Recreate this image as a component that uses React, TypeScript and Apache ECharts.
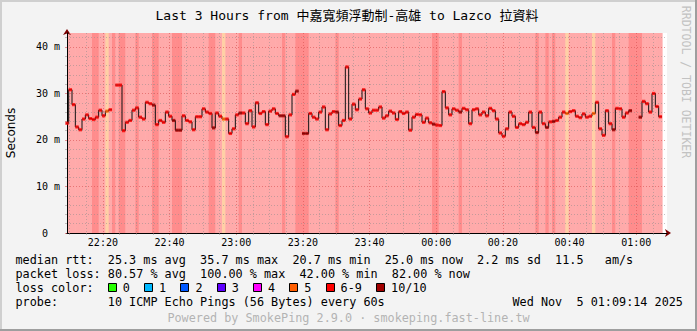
import React, { useEffect, useRef } from 'react';
import * as echarts from 'echarts';

// ---------------- data ----------------
// median RTT (ms), one value per minute starting at the left edge of the plot
const rttMs: (number | null)[] = [
  23.6, 30.8, 27.6, 22.8, 22.2, 24.5, 25.4, 24.6, 24.4, 24.9,
  26.4, 25.2, 26.2, 26.5, null, 31.8, 31.8, 22.0, 23.8, 24.2,
  26.4, 26.9, 24.9, 24.5, 28.1, 27.8, 27.5, 23.3, 24.2, 23.8,
  26.0, 25.1, 24.2, 22.1, 22.1, 25.2, 24.2, 23.9, 22.2, 25.0,
  25.0, 26.7, 26.0, 25.7, 22.6, 25.8, 25.1, 24.5, 24.5, 21.4,
  22.4, 25.4, 25.8, 25.8, 23.5, 26.3, 22.8, 28.0, 25.7, 26.1,
  23.3, 26.2, 26.7, 25.7, 25.2, 25.2, 20.7, 25.4, 29.8, 30.5,
  null, 21.4, 21.4, 25.7, 24.9, 24.5, 26.0, 27.1, 22.2, 25.6,
  26.1, 26.0, 23.1, 24.2, 35.7, 24.5, 27.7, 26.5, 28.8, 30.8,
  26.7, 25.8, 26.4, 26.4, 27.1, 24.7, 25.2, 26.2, 25.8, 24.4,
  26.1, 25.7, 26.0, 22.1, 24.9, 25.5, 25.4, 23.8, 24.7, 23.7,
  23.4, 23.2, 23.1, 30.4, 26.9, 25.4, 26.7, 26.4, 26.0, 26.8,
  26.5, 23.5, 26.5, 26.7, 25.4, 26.0, 25.2, 26.8, 26.3, 24.5,
  21.5, 20.8, 22.4, 26.0, 25.1, 22.7, 23.5, 23.3, 23.8, 26.0,
  22.7, 21.6, 26.0, 23.5, 22.7, 23.9, 24.0, 24.2, 24.9, 26.0,
  25.7, 26.1, 26.3, 25.1, 24.8, 25.6, 24.9, 25.1, 25.7, 28.1,
  22.4, 21.0, 26.3, 23.5, 22.2, 26.8, 26.7, 24.9, 25.8, 26.3,
  null, null, 24.9, 28.3, 27.8, 26.0, 30.0, 27.2, 25.0,
];

// minutes (index into rttMs) whose loss shading is 10/10 or 5/10 (others are 6-9)
const bgFullLoss = [8, 9, 14, 16, 17, 21, 26, 27, 32, 33, 34, 43, 44, 52, 65, 69, 70, 71, 72, 81, 110, 111, 118, 141, 144, 146, 164, 169, 170, 171, 172];
const bgHalfLoss = [12, 47, 150, 158];
// minutes whose median marker is coloured 10/10 or 5
const medianFullLoss = [26, 32, 33, 34, 44, 52, 64, 65, 69, 71, 72, 81, 110, 118, 141, 144, 146, 164, 169, 172];
const medianHalfLoss = [12, 47, 150, 158];

const startTime = '22:09:14';
const spanMinutes = 180;
const xTickLabels = ['22:20', '22:40', '23:00', '23:20', '23:40', '00:00', '00:20', '00:40', '01:00'];
const xMinorStep = 5;
const yMax = 43;
const yMinorStep = 2;
const yMajorTicks = [0, 10, 20, 30, 40];

const lossLabels = ['0', '1', '2', '3', '4', '5', '6-9', '10/10'];
const lossColors = ['#26ff00', '#00b8ff', '#0059ff', '#5e00ff', '#ff00ff', '#ff5e00', '#ff0000', '#a10000'];

const title = 'Last 3 Hours from 中嘉寬頻浮動制-高雄 to Lazco 拉資料';
const statLines = [
  'median rtt:  25.3 ms avg  35.7 ms max  20.7 ms min  25.0 ms now  2.2 ms sd  11.5   am/s',
  'packet loss: 80.57 % avg  100.00 % max  42.00 % min  82.00 % now',
];
const lossLegendTitle = 'loss color:';
const probeLine = 'probe:       10 ICMP Echo Pings (56 Bytes) every 60s';
const dateLine = 'Wed Nov  5 01:09:14 2025';
const footer = 'Powered by SmokePing 2.9.0 · smokeping.fast-line.tw';
const watermark = 'RRDTOOL / TOBI OETIKER';
const yName = 'Seconds';

// ---------------- helpers ----------------
const W = 697;
const H = 331;
const MONO = "'DejaVu Sans Mono', 'Noto Sans CJK TC', monospace";
const CW = 7.1;
const X0 = 15.5;
const FS = 11.8;

function clockMinutes(s: string) {
  const p = s.split(':').map(Number);
  let v = p[0] * 60 + p[1] + (p[2] || 0) / 60;
  if (p[0] < 12) v += 1440;
  return v;
}
const t0 = clockMinutes(startTime);
const xMajor = xTickLabels.map((l) => clockMinutes(l) - t0);
const xMinor: number[] = [];
for (let t = Math.ceil(t0 / xMinorStep) * xMinorStep; t - t0 <= spanMinutes; t += xMinorStep) {
  const v = t - t0;
  if (!xMajor.some((m) => Math.abs(m - v) < 0.01)) xMinor.push(v);
}
const yMinor: number[] = [];
for (let v = 0; v < yMax; v += yMinorStep) if (!yMajorTicks.includes(v)) yMinor.push(v);

function bgLoss(j: number) {
  return bgFullLoss.includes(j) ? 10 : bgHalfLoss.includes(j) ? 5 : 8;
}
function medLoss(j: number) {
  return medianFullLoss.includes(j) ? 10 : medianHalfLoss.includes(j) ? 5 : 8;
}
const bgColor: Record<number, string> = { 8: '#ffaaaa', 10: '#ff8c8c', 5: '#ffd0a6' };
const markColor: Record<number, string> = { 8: lossColors[6], 10: lossColors[7], 5: lossColors[5] };

function monoText(s: string, y: number, fill = '#000') {
  const out: any[] = [];
  const re = /\S+/g;
  let m: RegExpExecArray | null;
  while ((m = re.exec(s))) {
    out.push({
      type: 'text',
      x: X0 + m.index * CW,
      y,
      style: { text: m[0], fill, fontFamily: MONO, fontSize: FS, align: 'left', verticalAlign: 'middle', textAlign: 'left', textVerticalAlign: 'middle' },
    });
  }
  return out;
}

function buildOption() {
  const bgData = rttMs.map((_, j) => [j, bgLoss(j)]);
  const lineData: any[] = [];
  rttMs.forEach((v, j) => {
    if (v == null) lineData.push([j, null]);
    else lineData.push([j - 0.5, v], [j + 0.5, v]);
  });
  const markData: any[] = [];
  rttMs.forEach((v, j) => {
    if (v != null) markData.push([j, v, medLoss(j)]);
  });

  const minorGrid = 'rgba(150,140,140,0.55)';
  const majorGrid = 'rgba(215,80,80,0.6)';

  const graphic: any[] = [];
  // frame
  graphic.push({ type: 'rect', shape: { x: 0, y: 0, width: W, height: 2 }, style: { fill: '#cfcfcf' }, silent: true });
  graphic.push({ type: 'rect', shape: { x: 0, y: 0, width: 2, height: H }, style: { fill: '#cfcfcf' }, silent: true });
  graphic.push({ type: 'rect', shape: { x: 0, y: H - 2, width: W, height: 2 }, style: { fill: '#9e9e9e' }, silent: true });
  graphic.push({ type: 'rect', shape: { x: W - 2, y: 0, width: 2, height: H }, style: { fill: '#9e9e9e' }, silent: true });
  // title
  graphic.push({
    type: 'text', x: 347, y: 15,
    style: { text: title, fill: '#000', fontFamily: MONO, fontSize: 13, align: 'center', verticalAlign: 'middle', textAlign: 'center', textVerticalAlign: 'middle' },
  });
  // y name
  graphic.push({
    type: 'text', x: 11, y: 133, rotation: Math.PI / 2,
    style: { text: yName, fill: '#000', fontFamily: "'DejaVu Sans', sans-serif", fontSize: 12, align: 'center', verticalAlign: 'middle', textAlign: 'center', textVerticalAlign: 'middle' },
  });
  // watermark
  graphic.push({
    type: 'text', x: 686, y: 82, rotation: -Math.PI / 2,
    style: { text: watermark, fill: '#c2c2c2', fontFamily: MONO, fontSize: 11.5, align: 'center', verticalAlign: 'middle', textAlign: 'center', textVerticalAlign: 'middle' },
  });
  // stats
  graphic.push(...monoText(statLines[0], 259.5));
  graphic.push(...monoText(statLines[1], 273.5));
  graphic.push(...monoText(lossLegendTitle, 287.5));
  let bx = X0 + 13 * CW;
  lossLabels.forEach((lab, k) => {
    graphic.push({ type: 'rect', shape: { x: Math.round(bx) + 0.5, y: 283.5, width: 8, height: 8 }, style: { fill: lossColors[k], stroke: '#000', lineWidth: 1 } });
    const lx = bx + 15;
    graphic.push({
      type: 'text', x: lx, y: 287.5,
      style: { text: lab, fill: '#000', fontFamily: MONO, fontSize: FS, align: 'left', verticalAlign: 'middle', textAlign: 'left', textVerticalAlign: 'middle' },
    });
    bx = lx + (lab.length + 2) * CW;
  });
  graphic.push(...monoText(probeLine, 301.5));
  graphic.push({
    type: 'text', x: X0 + 70 * CW, y: 301.5,
    style: { text: dateLine.replace(/ {2}/g, ' \u00a0'), fill: '#000', fontFamily: MONO, fontSize: FS, align: 'left', verticalAlign: 'middle', textAlign: 'left', textVerticalAlign: 'middle' },
  });
  graphic.push({
    type: 'text', x: 348.5, y: 318,
    style: { text: footer, fill: '#b3b3b3', fontFamily: MONO, fontSize: FS, align: 'center', verticalAlign: 'middle', textAlign: 'center', textVerticalAlign: 'middle' },
  });

  const axisFont = { fontFamily: MONO, fontSize: 10, color: '#000' };

  return {
    animation: false,
    backgroundColor: '#f3f3f3',
    grid: { left: 67, top: 33, width: 600, height: 200, show: true, backgroundColor: '#ffffff', borderWidth: 0, containLabel: false, outerBoundsMode: 'none' },
    xAxis: [
      {
        type: 'value', min: 0, max: spanMinutes, position: 'bottom', z: 3,
        axisLine: { show: true, onZero: false, lineStyle: { color: '#000', width: 1 } },
        axisTick: { show: true, customValues: xMinor, length: 2, lineStyle: { color: minorGrid } },
        axisLabel: { show: false },
        splitLine: { show: true, customValues: xMinor, lineStyle: { color: minorGrid, width: 1, type: [1, 2] } },
      },
      {
        type: 'value', min: 0, max: spanMinutes, position: 'bottom', z: 2,
        axisLine: { show: true, onZero: false, lineStyle: { color: '#7a0000', width: 1 }, symbol: ['none', 'arrow'], symbolSize: [6, 6], symbolOffset: [0, 4] },
        axisTick: { show: true, customValues: xMajor, length: 2, lineStyle: { color: majorGrid } },
        axisLabel: {
          show: true, customValues: xMajor, margin: 4, ...axisFont,
          formatter: (v: number) => {
            const i = xMajor.findIndex((m) => Math.abs(m - v) < 0.01);
            return i >= 0 ? xTickLabels[i] : '';
          },
        },
        splitLine: { show: true, customValues: xMajor, lineStyle: { color: majorGrid, width: 1, type: [1, 2] } },
      },
    ],
    yAxis: [
      {
        type: 'value', min: 0, max: yMax, position: 'left', z: 3,
        axisLine: { show: true, onZero: false, lineStyle: { color: '#000', width: 1 } },
        axisTick: { show: true, customValues: yMinor, length: 2, lineStyle: { color: minorGrid } },
        axisLabel: { show: false },
        splitLine: { show: true, customValues: yMinor, lineStyle: { color: minorGrid, width: 1, type: [1, 2] } },
      },
      {
        type: 'value', min: 0, max: yMax, position: 'left', z: 2,
        axisLine: { show: true, onZero: false, lineStyle: { color: '#7a0000', width: 1 }, symbol: ['none', 'arrow'], symbolSize: [6, 6], symbolOffset: [0, 4] },
        axisTick: { show: true, customValues: yMajorTicks, length: 2, lineStyle: { color: majorGrid } },
        axisLabel: {
          show: true, customValues: yMajorTicks, margin: 7, ...axisFont,
          formatter: (v: number) => (v === 0 ? '0\u00a0\u00a0' : `${v} m`),
        },
        splitLine: { show: true, customValues: yMajorTicks, lineStyle: { color: majorGrid, width: 1, type: [1, 2] } },
      },
    ],
    series: [
      {
        type: 'custom', xAxisIndex: 0, yAxisIndex: 0, z: 1, clip: true, silent: true,
        data: bgData,
        renderItem: (_p: any, api: any) => {
          const j = api.value(0);
          const loss = api.value(1);
          const a = api.coord([Math.max(j - 0.5, 0), yMax]);
          const b = api.coord([j + 0.5, 0]);
          return {
            type: 'rect',
            shape: { x: a[0], y: a[1], width: b[0] - a[0] + 0.6, height: b[1] - a[1] },
            style: { fill: bgColor[loss] },
          };
        },
      },
      {
        type: 'line', xAxisIndex: 0, yAxisIndex: 0, z: 4, silent: true,
        data: lineData, showSymbol: false, connectNulls: false,
        lineStyle: { color: '#111', width: 1 },
      },
      {
        type: 'scatter', xAxisIndex: 0, yAxisIndex: 0, z: 5, silent: true,
        data: markData, symbol: 'rect', symbolSize: [3.4, 3.2],
        itemStyle: { color: (p: any) => markColor[p.data[2]] },
      },
    ],
    graphic,
  };
}

export default function App() {
  const ref = useRef<HTMLDivElement>(null);
  useEffect(() => {
    document.body.style.margin = '0';
    const chart = echarts.init(ref.current!, null, { renderer: 'svg', width: W, height: H });
    chart.setOption(buildOption() as any);
    return () => chart.dispose();
  }, []);
  return <div ref={ref} style={{ width: W, height: H }} />;
}
